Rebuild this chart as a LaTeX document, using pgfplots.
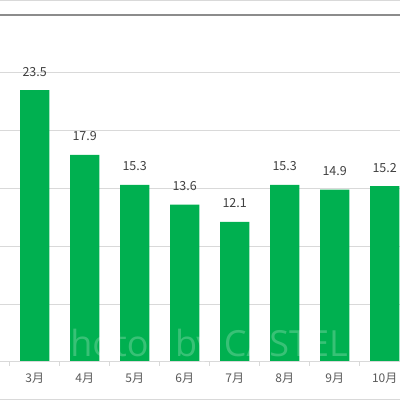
\documentclass[border=0pt]{standalone}
\usepackage{fontspec}
\setmainfont{Noto Sans CJK JP}
\newfontfamily\wmfont{Open Sans}
\usepackage{pgfplots}
\pgfplotsset{compat=1.18}
\definecolor{bargreen}{HTML}{00B050}
\definecolor{gridc}{HTML}{D9D9D9}
\definecolor{lblc}{HTML}{404040}
\definecolor{tickc}{HTML}{595959}
\begin{document}
\begin{tikzpicture}
\begin{axis}[
  at={(0,0)}, anchor=south west,
  width=400pt, height=346.7pt, scale only axis,
  xmin=-0.694, xmax=7.306, ymin=0, ymax=30,
  axis line style={draw=none},
  ytick={0,5,10,15,20,25}, yticklabels={},
  ymajorgrids, major grid style={gridc, line width=0.8pt},
  ytick style={draw=none},
  xtick={0,1,2,3,4,5,6,7},
  xticklabels={3月,4月,5月,6月,7月,8月,9月,10月},
  major x tick style={draw=none},
  minor xtick={-0.5,0.5,1.5,2.5,3.5,4.5,5.5,6.5,7.5},
  minor x tick style={gridc, line width=0.8pt},
  minor tick length=4pt,
  tick align=outside, xtick pos=bottom,
  xticklabel style={font=\fontsize{12}{14}\selectfont, text=tickc, yshift=-3.5pt},
  ybar, bar width=0.586,
  nodes near coords,
  every node near coord/.append style={font=\fontsize{12.5}{14}\selectfont, text=lblc, inner sep=0pt, anchor=base, yshift=14pt},
  /pgf/number format/assume math mode=true,
  /pgf/number format/fixed, /pgf/number format/precision=1, /pgf/number format/fixed zerofill,
  clip=false,
]
\addplot[fill=bargreen, draw=none] coordinates {(0,23.5) (1,17.9) (2,15.3) (3,13.6) (4,12.1) (5,15.3) (6,14.9) (7,15.2)};
\draw[gridc, line width=0.8pt] (rel axis cs:0,0) -- (rel axis cs:1,0);
\draw[black!45, line width=1.5pt] (rel axis cs:0,1) -- (rel axis cs:1,1);
\node[anchor=base east, inner sep=0pt, text=white, text opacity=0.22, font=\wmfont\fontsize{36}{36}\selectfont] at (axis cs:6.266,0.43) {Photos by CASTEL};
\end{axis}
\pgfresetboundingbox
\path[use as bounding box] (0,-38.3pt) rectangle (400pt,361.7pt);
\draw[gridc, line width=1pt] (0,360.8pt) -- (400pt,360.8pt);
\draw[gridc, line width=1pt] (0,-37.3pt) -- (400pt,-37.3pt);
\end{tikzpicture}
\end{document}
